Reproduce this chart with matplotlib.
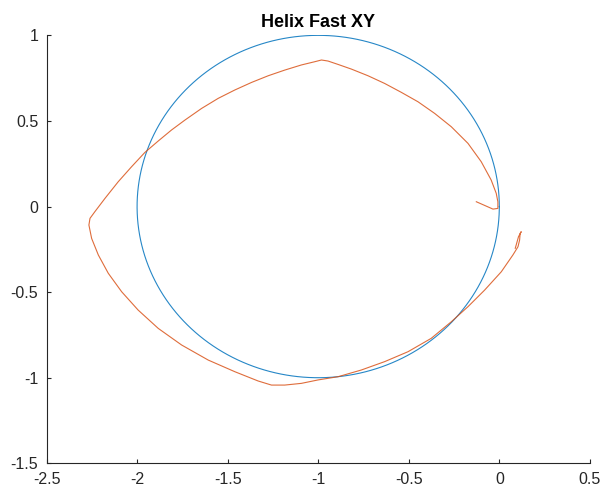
import numpy as np
import matplotlib
matplotlib.use("Agg")
import matplotlib.pyplot as plt

plt.rcParams['font.family'] = ['Liberation Sans', 'DejaVu Sans']

# Reference circle: center and radius
circle_center = (-1.0, 0.0)
circle_radius = 1.0

traj_x = [-0.127, -0.035, -0.008, -0.008, -0.017, -0.045, -0.100, -0.173, -0.265,
          -0.357, -0.449, -0.541, -0.633, -0.725, -0.817, -0.890, -0.946, -0.982,
          -1.019, -1.093, -1.185, -1.276, -1.368, -1.460, -1.552, -1.644, -1.736,
          -1.810, -1.883, -1.957, -2.030, -2.104, -2.177, -2.233, -2.260, -2.266,
          -2.251, -2.214, -2.159, -2.085, -1.994, -1.883, -1.754, -1.607, -1.460,
          -1.332, -1.258, -1.185, -1.093, -1.001, -0.890, -0.762, -0.633, -0.504,
          -0.376, -0.265, -0.173, -0.081, 0.011, 0.075, 0.103, 0.112, 0.115,
          0.121, 0.106, 0.088]
traj_y = [0.028, -0.015, -0.011, 0.028, 0.077, 0.155, 0.262, 0.369, 0.466,
          0.544, 0.612, 0.667, 0.719, 0.764, 0.803, 0.830, 0.850, 0.856,
          0.846, 0.827, 0.797, 0.764, 0.725, 0.681, 0.632, 0.573, 0.505,
          0.447, 0.383, 0.316, 0.233, 0.145, 0.048, -0.030, -0.069, -0.108,
          -0.186, -0.283, -0.390, -0.498, -0.605, -0.712, -0.809, -0.897, -0.965,
          -1.019, -1.043, -1.043, -1.033, -1.013, -0.994, -0.955, -0.906, -0.848,
          -0.770, -0.673, -0.585, -0.488, -0.381, -0.283, -0.235, -0.196, -0.157,
          -0.147, -0.176, -0.244]

x_ticks = [-2.5, -2, -1.5, -1, -0.5, 0, 0.5]
x_ticklabels = ['-2.5', '-2', '-1.5', '-1', '-0.5', '0', '0.5']
y_ticks = [-1.5, -1, -0.5, 0, 0.5, 1]
y_ticklabels = ['-1.5', '-1', '-0.5', '0', '0.5', '1']

fig = plt.figure(figsize=(6.05, 4.91), dpi=100)
ax = fig.add_axes([0.0769, 0.0564, 0.975 - 0.0769, 0.928 - 0.0564])

theta = np.linspace(0, 2 * np.pi, 400)
ax.plot(circle_center[0] + circle_radius * np.cos(theta),
        circle_center[1] + circle_radius * np.sin(theta),
        color='#0072BD', lw=0.8, alpha=0.85)
ax.plot(traj_x, traj_y, color='#D95319', lw=0.8, alpha=0.85,
        solid_joinstyle='round')

ax.set_xlim(-2.5, 0.5)
ax.set_ylim(-1.5, 1.0)
ax.set_xticks(x_ticks)
ax.set_xticklabels(x_ticklabels)
ax.set_yticks(y_ticks)
ax.set_yticklabels(y_ticklabels)

for s in ['top', 'right']:
    ax.spines[s].set_visible(False)
for s in ['left', 'bottom']:
    ax.spines[s].set_color('#262626')
    ax.spines[s].set_linewidth(0.8)
ax.tick_params(direction='in', length=3, width=0.8, colors='#262626',
               labelsize=11.5, labelcolor='#262626', pad=6)

ax.set_title('Helix Fast XY', fontsize=13, fontweight='bold', color='black', pad=6)

fig.savefig('out.png', dpi=100)
